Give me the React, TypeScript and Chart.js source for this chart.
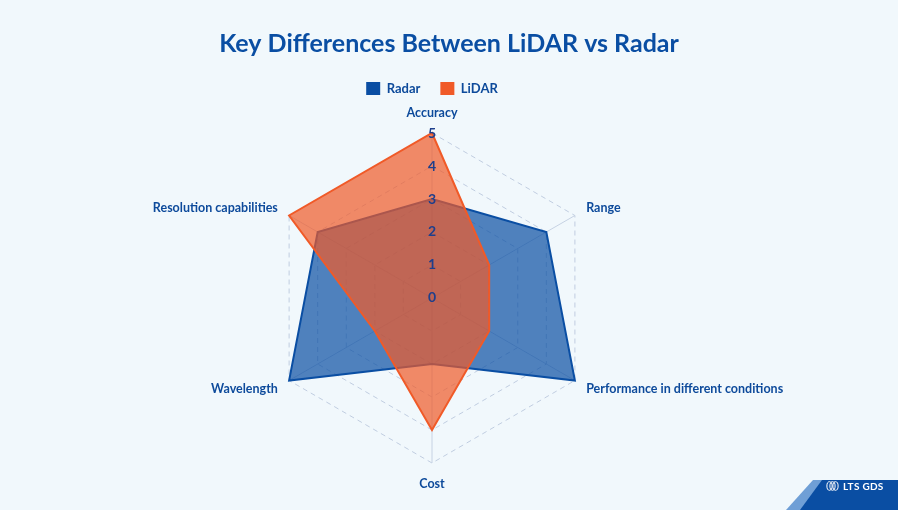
import React, { useEffect, useRef } from "react";
import { Chart, registerables } from "chart.js";

Chart.register(...registerables);

const categories = [
  "Accuracy",
  "Range",
  "Performance in different conditions",
  "Cost",
  "Wavelength",
  "Resolution capabilities",
];
const radarValues = [3, 4, 5, 2, 5, 4];
const lidarValues = [5, 2, 2, 4, 2, 5];
const tickValues = [0, 1, 2, 3, 4, 5];
const seriesNames = ["Radar", "LiDAR"];

const BG = "#f1f8fc";
const BLUE = "#0a4ea3";
const ORANGE = "#f05a28";
const LABEL = "#0d4a9b";
const FONT = "Lato, 'Open Sans', sans-serif";

const legendShift = {
  id: "legendShift",
  afterLayout(chart: any) {
    const lg = chart.legend;
    if (lg) {
      lg.left -= 17;
      lg.right -= 17;
    }
  },
};

export default function App() {
  const ref = useRef<HTMLCanvasElement | null>(null);

  useEffect(() => {
    if (!ref.current) return;
    const chart = new Chart(ref.current, {
      type: "radar",
      plugins: [legendShift],
      data: {
        labels: categories,
        datasets: [
          {
            label: seriesNames[0],
            data: radarValues,
            backgroundColor: "rgba(10,78,163,0.7)",
            borderColor: BLUE,
            borderWidth: 2,
            pointRadius: 0,
            order: 1,
          },
          {
            label: seriesNames[1],
            data: lidarValues,
            backgroundColor: "rgba(240,90,40,0.7)",
            borderColor: ORANGE,
            borderWidth: 2,
            pointRadius: 0,
            order: 0,
          },
        ],
      },
      options: {
        responsive: false,
        animation: false,
        layout: { padding: 0 },
        plugins: {
          title: {
            display: true,
            text: "Key Differences Between LiDAR vs Radar",
            color: BLUE,
            font: { family: FONT, size: 25, weight: "bold" },
            padding: { top: 29, bottom: 3 },
          },
          legend: {
            display: true,
            position: "top",
            labels: {
              color: LABEL,
              font: { family: FONT, size: 13, weight: "bold" },
              boxWidth: 14,
              boxHeight: 13,
              padding: 20,
              sort: (a: any, b: any) => a.datasetIndex - b.datasetIndex,
              generateLabels: (c: any) => {
                const base = Chart.defaults.plugins.legend.labels.generateLabels(c);
                return base.map((l: any) => ({
                  ...l,
                  fillStyle: l.datasetIndex === 0 ? BLUE : ORANGE,
                  strokeStyle: l.datasetIndex === 0 ? BLUE : ORANGE,
                  lineWidth: 0,
                }));
              },
            },
          },
          tooltip: { enabled: false },
        },
        scales: {
          r: {
            min: -0.001,
            max: 5,
            afterBuildTicks: (scale: any) => {
              scale.ticks = tickValues.map((v) => ({ value: v }));
            },
            afterFit: (scale: any) => {
              scale.xCenter = 432;
              scale.yCenter = 298;
              scale.drawingArea = 165;
              const orig = scale.setCenterPoint;
              scale.setCenterPoint = () => {};
              scale.fit();
              scale.setCenterPoint = orig;
              const items = scale._pointLabelItems || [];
              items.forEach((it: any, i: number) => {
                let dy = 0;
                if (i === 1 || i === 5) dy = 6;
                if (i === 2 || i === 4) dy = -6;
                it.y += dy;
                it.top += dy;
                it.bottom += dy;
              });
            },
            ticks: {
              z: 1,
              showLabelBackdrop: false,
              color: "#1e3f8c",
              font: { family: FONT, size: 14, weight: "bold" },
              callback: (v: any) => String(Math.round(Number(v))),
            },
            grid: {
              color: (ctx: any) => (ctx.tick && ctx.tick.value === 0 ? "rgba(0,0,0,0)" : "#c0cde0"),
              lineWidth: 1,
            },
            border: { dash: [5, 4] },
            angleLines: { color: "#c6d2e3", lineWidth: 1 },
            pointLabels: {
              color: LABEL,
              font: { family: FONT, size: 12.5, weight: "bold" },
              padding: 4,
            },
          },
        },
      },
    });
    return () => chart.destroy();
  }, []);

  return (
    <div
      style={{
        position: "absolute",
        left: 0,
        top: 0,
        width: 898,
        height: 510,
        background: BG,
        overflow: "hidden",
        fontFamily: FONT,
      }}
    >
      <canvas ref={ref} width={898} height={510} style={{ display: "block" }} />
      <div
        style={{
          position: "absolute",
          left: 786,
          top: 480,
          width: 140,
          height: 30,
          background: "#6f9fd6",
          clipPath: "polygon(27px 0, 140px 0, 140px 30px, 0 30px)",
        }}
      />
      <div
        style={{
          position: "absolute",
          left: 800,
          top: 480,
          width: 120,
          height: 30,
          background: BLUE,
          clipPath: "polygon(22px 0, 120px 0, 120px 30px, 0 30px)",
        }}
      />
      <div
        style={{
          position: "absolute",
          left: 826,
          top: 478,
          height: 16,
          display: "flex",
          alignItems: "center",
          color: "#ffffff",
          fontSize: 10,
          fontWeight: 700,
          letterSpacing: 0.3,
        }}
      >
        <svg width="13" height="10" viewBox="0 0 13 10" style={{ marginRight: 4 }}>
          <ellipse cx="3.5" cy="5" rx="2.6" ry="4.3" fill="none" stroke="#fff" strokeWidth="1" />
          <ellipse cx="6.5" cy="5" rx="2.6" ry="4.3" fill="none" stroke="#fff" strokeWidth="1" />
          <ellipse cx="9.5" cy="5" rx="2.6" ry="4.3" fill="none" stroke="#fff" strokeWidth="1" />
        </svg>
        <span>LTS GDS</span>
      </div>
    </div>
  );
}
